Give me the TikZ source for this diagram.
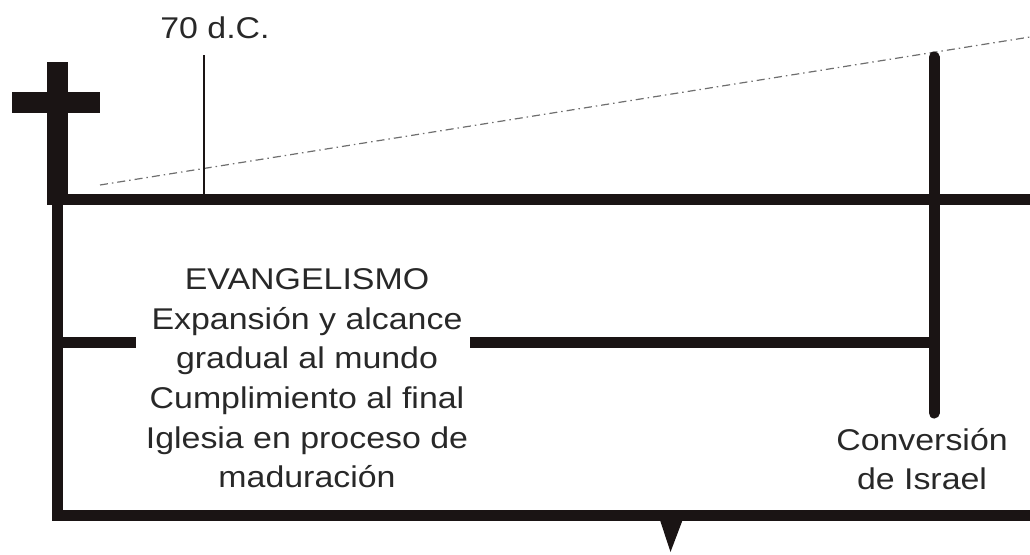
\documentclass[tikz,border=0pt]{standalone}
\usepackage{fontspec}
\setmainfont{Liberation Sans}[FakeStretch=1.13]
\definecolor{ink}{RGB}{26,20,20}
\definecolor{txt}{RGB}{40,40,40}
\definecolor{dd}{RGB}{110,110,110}
\begin{document}
\begin{tikzpicture}[x=1pt,y=-1pt,
  thick line/.style={draw=ink, line width=11pt},
  thin line/.style={draw=ink, line width=2.5pt},
  dashdot line/.style={draw=dd, line width=1.2pt, dash pattern=on 8pt off 4pt on 1.5pt off 4pt},
  lbl/.style={text=txt, font=\fontsize{30}{39.6}\selectfont, inner sep=0pt, align=center}]
\useasboundingbox (0,0) rectangle (1030,554);
% cross
\fill[ink] (47,62) rectangle (68,205);
\fill[ink] (12,92) rectangle (100,113);
% coordinates
\coordinate (tl) at (47,199.5);
\coordinate (tr) at (1030,199.5);
\coordinate (lv) at (57.5,199.5);
\coordinate (bl) at (57.5,515);
\coordinate (br) at (1030,515);
\coordinate (ml) at (57.5,342);
\coordinate (m1) at (136,342);
\coordinate (m2) at (470,342);
\coordinate (mr) at (934,342);
\coordinate (vt) at (934,57);
\coordinate (vb) at (934,413);
\coordinate (s70t) at (204,55);
\coordinate (s70b) at (204,199.5);
\coordinate (dd1) at (100,185);
\coordinate (dd2) at (1030,37);
% dash-dot line
\draw[dashdot line] (dd1) -- (dd2);
% main lines
\draw[thick line] (tl) -- (tr);
\draw[thick line, line join=miter] (lv) -- (bl) -- (br);
\draw[thick line] (ml) -- (m1);
\draw[thick line] (m2) -- (mr);
\draw[thick line, line cap=round] (vt) -- (vb);
\draw[thin line] (s70t) -- (s70b);
% triangle
\fill[ink] (657,511) -- (686,511) -- (670.5,552) -- cycle;
% labels
\node[lbl, anchor=base] (t70) at (215,38) {70 d.C.};
\node[lbl, anchor=north] (evang) at (307,268.5) {EVANGELISMO\\Expansión y alcance\\gradual al mundo\\Cumplimiento al final\\Iglesia en proceso de\\maduración};
\node[lbl, anchor=north] (conv) at (922,428) {Conversión\\de Israel};
\end{tikzpicture}
\end{document}
